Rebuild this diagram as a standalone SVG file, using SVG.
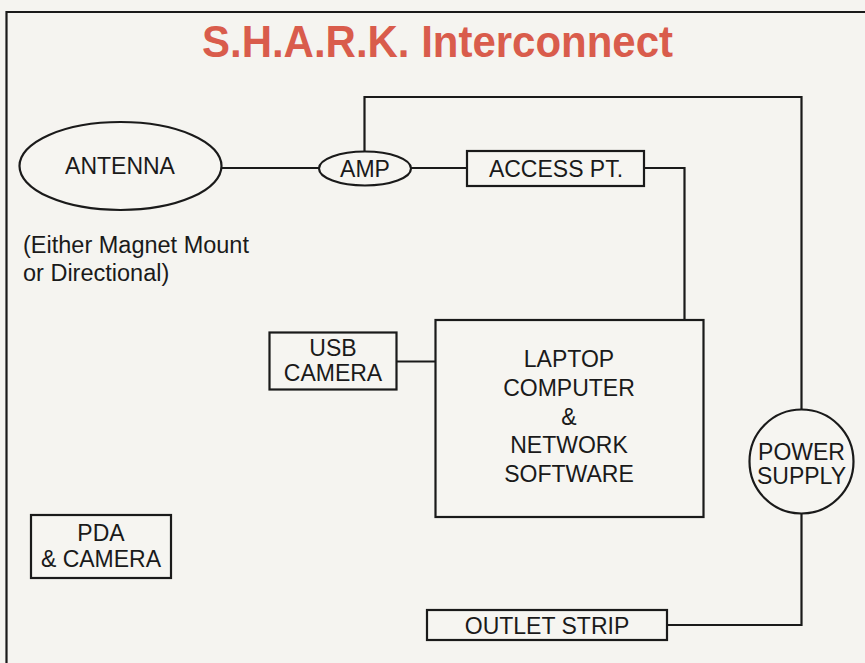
<svg xmlns="http://www.w3.org/2000/svg" width="865" height="663" viewBox="0 0 865 663">
<style>
.ln{fill:none;stroke:#1a1a1a;stroke-width:2.2}
.sh{fill:#f6f5f1;stroke:#1a1a1a;stroke-width:2.2}
.t{font-family:"Liberation Sans",Arial,Helvetica,sans-serif;font-size:23px;fill:#1a1a1a;text-anchor:middle}
.c{font-family:"Liberation Sans",Arial,Helvetica,sans-serif;font-size:23.5px;fill:#1a1a1a}
.title{font-family:"Liberation Sans",Arial,Helvetica,sans-serif;font-weight:bold;font-size:45px;fill:#d95c4c}
</style>
<rect x="0" y="0" width="865" height="663" fill="#f5f4f0"/>
<path class="ln" d="M6.5,675 V12 H870" stroke-width="2.6"/>
<text class="title" x="202" y="57" textLength="471" lengthAdjust="spacingAndGlyphs">S.H.A.R.K. Interconnect</text>
<g id="connectors">
<path class="ln" d="M222,168 H319"/>
<path class="ln" d="M411,168 H467"/>
<path class="ln" d="M364.5,151 V97 H801.5 V410"/>
<path class="ln" d="M644,168 H684.5 V320"/>
<path class="ln" d="M397,361.5 H436"/>
<path class="ln" d="M801.5,513 V625 H667"/>
</g>
<g id="antenna">
<ellipse class="sh" cx="120.5" cy="166" rx="101" ry="44"/>
<text class="t" x="120" y="174">ANTENNA</text>
</g>
<g id="antenna-note">
<text class="c" x="23" y="253">(Either Magnet Mount</text>
<text class="c" x="23" y="281">or Directional)</text>
</g>
<g id="amp">
<ellipse class="sh" cx="365" cy="168.5" rx="46" ry="17"/>
<text class="t" x="365" y="177">AMP</text>
</g>
<g id="access-pt">
<rect class="sh" x="467" y="151" width="177" height="35"/>
<text class="t" x="556" y="177">ACCESS PT.</text>
</g>
<g id="usb-camera">
<rect class="sh" x="269.5" y="332.5" width="127" height="57"/>
<text class="t" x="333" y="356">USB</text>
<text class="t" x="333" y="381">CAMERA</text>
</g>
<g id="laptop">
<rect class="sh" x="435.5" y="320" width="268" height="197"/>
<text class="t" x="569" y="367">LAPTOP</text>
<text class="t" x="569" y="396">COMPUTER</text>
<text class="t" x="569" y="425">&amp;</text>
<text class="t" x="569" y="453">NETWORK</text>
<text class="t" x="569" y="482">SOFTWARE</text>
</g>
<g id="power-supply">
<circle class="sh" cx="801.5" cy="461.5" r="52"/>
<text class="t" x="801.5" y="460">POWER</text>
<text class="t" x="801.5" y="484">SUPPLY</text>
</g>
<g id="pda-camera">
<rect class="sh" x="31" y="515" width="140" height="63"/>
<text class="t" x="101" y="541">PDA</text>
<text class="t" x="101" y="567">&amp; CAMERA</text>
</g>
<g id="outlet-strip">
<rect class="sh" x="427" y="610" width="240" height="30"/>
<text class="t" x="547" y="634">OUTLET STRIP</text>
</g>
</svg>
